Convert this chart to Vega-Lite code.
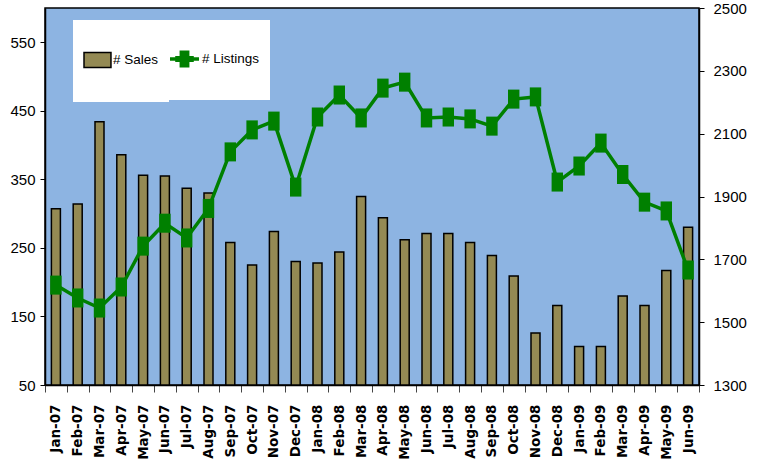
{
  "$schema": "https://vega.github.io/schema/vega-lite/v6.json",
  "width": 654,
  "height": 377,
  "autosize": {"type": "none"},
  "padding": {"left": 45, "top": 8, "right": 61, "bottom": 82},
  "background": "white",
  "config": {
    "view": {"fill": "#8DB4E2", "stroke": "black", "strokeWidth": 1.5},
    "axis": {"grid": false, "title": null, "labelColor": "black", "domainColor": "black", "domainWidth": 1.5, "tickColor": "black"}
  },
  "data": {
    "values": [
      {"month": "Jan-07", "sales": 307, "listings": 1618},
      {"month": "Feb-07", "sales": 314, "listings": 1577},
      {"month": "Mar-07", "sales": 434, "listings": 1545},
      {"month": "Apr-07", "sales": 386, "listings": 1612},
      {"month": "May-07", "sales": 356, "listings": 1742},
      {"month": "Jun-07", "sales": 355, "listings": 1815},
      {"month": "Jul-07", "sales": 337, "listings": 1768},
      {"month": "Aug-07", "sales": 330, "listings": 1862},
      {"month": "Sep-07", "sales": 258, "listings": 2042},
      {"month": "Oct-07", "sales": 225, "listings": 2112},
      {"month": "Nov-07", "sales": 274, "listings": 2140},
      {"month": "Dec-07", "sales": 230, "listings": 1930},
      {"month": "Jan-08", "sales": 228, "listings": 2153},
      {"month": "Feb-08", "sales": 244, "listings": 2223},
      {"month": "Mar-08", "sales": 325, "listings": 2150},
      {"month": "Apr-08", "sales": 294, "listings": 2245},
      {"month": "May-08", "sales": 262, "listings": 2264},
      {"month": "Jun-08", "sales": 271, "listings": 2150},
      {"month": "Jul-08", "sales": 271, "listings": 2153},
      {"month": "Aug-08", "sales": 258, "listings": 2147},
      {"month": "Sep-08", "sales": 239, "listings": 2124},
      {"month": "Oct-08", "sales": 209, "listings": 2210},
      {"month": "Nov-08", "sales": 126, "listings": 2217},
      {"month": "Dec-08", "sales": 166, "listings": 1946},
      {"month": "Jan-09", "sales": 106, "listings": 1997},
      {"month": "Feb-09", "sales": 106, "listings": 2070},
      {"month": "Mar-09", "sales": 180, "listings": 1970},
      {"month": "Apr-09", "sales": 166, "listings": 1882},
      {"month": "May-09", "sales": 217, "listings": 1854},
      {"month": "Jun-09", "sales": 280, "listings": 1666}
    ]
  },
  "encoding": {
    "x": {
      "field": "month",
      "type": "nominal",
      "sort": null,
      "scale": {"paddingInner": 0, "paddingOuter": 0},
      "axis": {
        "labelAngle": -90,
        "labelFont": "DejaVu Sans",
        "labelFontWeight": "bold",
        "labelFontSize": 13.5,
        "tickBand": "extent",
        "tickSize": 7,
        "tickColor": "#444",
        "labelPadding": 12
      }
    }
  },
  "layer": [
    {
      "mark": {"type": "bar", "size": 9, "stroke": "black", "strokeWidth": 1.5},
      "encoding": {
        "y": {
          "field": "sales",
          "type": "quantitative",
          "scale": {"domain": [50, 600], "zero": false, "nice": false},
          "axis": {
            "orient": "left",
            "values": [50, 150, 250, 350, 450, 550],
            "labelFont": "Liberation Sans",
            "labelFontSize": 15,
            "tickSize": 5,
            "labelPadding": 5
          }
        },
        "y2": {"datum": 50},
        "color": {
          "datum": "# Sales",
          "type": "nominal",
          "scale": {"domain": ["# Sales"], "range": ["#948A54"]},
          "legend": {
            "orient": "none",
            "legendX": 28,
            "legendY": 12,
            "title": null,
            "fillColor": "white",
            "padding": 10,
            "symbolType": "M-1,-1M-1,1M-1,-0.26L-0.07,-0.26L-0.07,0.26L-1,0.26Z",
            "symbolSize": 3364,
            "symbolStrokeColor": "black",
            "symbolStrokeWidth": 1.5,
            "labelOffset": -30,
            "labelFont": "Liberation Sans",
            "labelFontSize": 13.5,
            "labelColor": "black"
          }
        }
      }
    },
    {
      "encoding": {
        "y": {
          "field": "listings",
          "type": "quantitative",
          "scale": {"domain": [1300, 2500], "zero": false, "nice": false},
          "axis": {
            "orient": "right",
            "values": [1300, 1500, 1700, 1900, 2100, 2300, 2500],
            "format": "d",
            "labelFont": "Liberation Sans",
            "labelFontSize": 15,
            "tickSize": 5,
            "labelPadding": 9
          }
        }
      },
      "layer": [
        {
          "mark": {"type": "line", "color": "#008000", "strokeWidth": 3.5}
        },
        {
          "mark": {"type": "point", "shape": "M-0.197,-0.328L0.197,-0.328L0.197,0.328L-0.197,0.328Z", "filled": true, "color": "#008000", "opacity": 1},
          "encoding": {
            "size": {
              "datum": "# Listings",
              "type": "ordinal",
              "scale": {"type": "ordinal", "domain": ["# Listings"], "range": [3364]},
              "legend": {
                "orient": "none",
                "legendX": 115,
                "legendY": 12,
                "title": null,
                "fillColor": "white",
                "padding": 10,
                "symbolType": "M-1,-1.05M-1,1.05M-1,-0.06L0,-0.06L0,0.06L-1,0.06Z M-0.82,-0.1L-0.18,-0.1L-0.18,0.1L-0.82,0.1Z M-0.67,-0.29L-0.33,-0.29L-0.33,0.29L-0.67,0.29Z",
                "symbolFillColor": "#008000",
                "symbolStrokeWidth": 0,
                "symbolOpacity": 1,
                "labelOffset": -26,
                "labelFont": "Liberation Sans",
                "labelFontSize": 13.5,
                "labelColor": "black"
              }
            }
          }
        }
      ]
    }
  ],
  "resolve": {"scale": {"y": "independent"}}
}
